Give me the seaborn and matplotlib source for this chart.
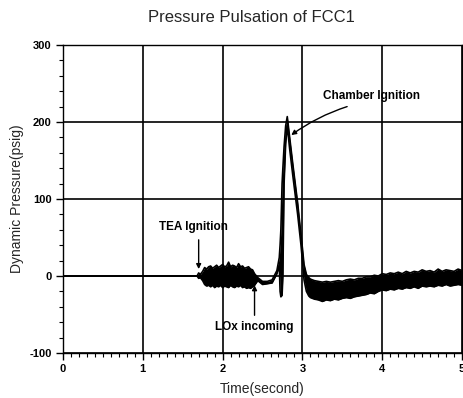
import matplotlib
matplotlib.use("Agg")
import matplotlib.pyplot as plt
import seaborn as sns
from matplotlib.ticker import MultipleLocator

# time (s) with upper / lower edge of the pressure trace (psig)
time_s = [0.00, 1.68, 1.70, 1.72,
          1.75, 1.775, 1.80, 1.825, 1.85, 1.875, 1.90, 1.925, 1.95, 1.975,
          2.00, 2.025, 2.05, 2.075, 2.10, 2.125, 2.15, 2.175, 2.20, 2.225,
          2.25, 2.275, 2.30, 2.325, 2.35, 2.375, 2.40,
          2.44, 2.50, 2.56, 2.62, 2.68, 2.71, 2.72, 2.73, 2.745, 2.755,
          2.77, 2.79, 2.81, 2.84, 2.88, 2.94, 2.98, 3.00, 3.02, 3.05, 3.08,
          3.10, 3.15, 3.20, 3.25, 3.30, 3.35, 3.40, 3.45, 3.50, 3.55, 3.60,
          3.65, 3.70, 3.75, 3.80, 3.85, 3.90, 3.95, 4.00, 4.05, 4.10, 4.15,
          4.20, 4.25, 4.30, 4.35, 4.40, 4.45, 4.50, 4.55, 4.60, 4.65, 4.70,
          4.75, 4.80, 4.85, 4.90, 4.95, 5.00]
p_upper = [0, 0, 4, 2,
           6, 11, 9, 12, 13, 10, 12, 14, 11, 13,
           15, 12, 13, 18, 12, 14, 13, 11, 16, 12,
           13, 10, 11, 12, 9, 8, 3,
           -2, -7, -7, -5, 7, 24, 40, 60, 120, 140,
           168, 195, 207, 180, 145, 95, 55, 36, 15, 2, -2,
           -4, -6, -7, -8, -7, -8, -7, -6, -7, -5, -4,
           -5, -3, -3, -1, -1, 1, 0, 3, 2, 4, 3,
           5, 3, 6, 4, 6, 5, 8, 6, 7, 5, 9,
           6, 8, 7, 6, 9, 7]
p_lower = [0, 0, -3, -2,
           -6, -11, -13, -12, -14, -12, -15, -13, -14, -12,
           -15, -13, -14, -15, -12, -14, -15, -13, -14, -12,
           -15, -14, -16, -15, -16, -14, -12,
           -6, -11, -10, -9, 3, 14, -20, -27, -25, 0,
           120, 172, 195, 165, 130, 80, 42, 20, -5, -20, -26,
           -28, -30, -31, -33, -31, -32, -30, -31, -29, -28, -29,
           -27, -26, -25, -24, -22, -23, -20, -18, -19, -17, -18,
           -16, -17, -15, -16, -14, -16, -13, -14, -13, -14, -12,
           -13, -11, -13, -12, -11, -12]

notes = ["TEA Ignition", "LOx incoming", "Chamber Ignition"]
note_text_xy = [(1.63, 64), (2.40, -66), (3.86, 234)]
note_tail_xy = [(1.70, 47), (2.40, -51), (3.56, 220)]
note_tip_xy = [(1.70, 9), (2.40, -12), (2.86, 183)]
note_bend = [0.0, 0.0, 0.08]

sns.set_style("ticks")
plt.rcParams["font.family"] = ["Liberation Sans", "DejaVu Sans"]
plt.rcParams["axes.unicode_minus"] = False

fig = plt.figure(figsize=(4.63, 3.98), dpi=100)
ax = fig.add_axes([0.136, 0.113, 0.862, 0.774])

ax.fill_between(time_s, p_lower, p_upper, color="black", linewidth=0)
sns.lineplot(x=time_s, y=p_upper, color="black", linewidth=1.2, ax=ax)
sns.lineplot(x=time_s, y=p_lower, color="black", linewidth=1.2, ax=ax)

for label, txt, tail, tip, bend in zip(notes, note_text_xy, note_tail_xy, note_tip_xy, note_bend):
    ax.text(txt[0], txt[1], label, ha="center", va="center",
            fontsize=8.5, fontweight="bold", color="black")
    ax.annotate("", xy=tip, xytext=tail,
                arrowprops=dict(arrowstyle="-|>", color="black", lw=1,
                                mutation_scale=7, shrinkA=0, shrinkB=0,
                                connectionstyle="arc3,rad=%s" % bend))

ax.set_xlim(0, 5)
ax.set_ylim(-100, 300)
ax.xaxis.set_major_locator(MultipleLocator(1))
ax.xaxis.set_minor_locator(MultipleLocator(0.1))
ax.yaxis.set_major_locator(MultipleLocator(100))
ax.yaxis.set_minor_locator(MultipleLocator(20))
ax.grid(True, which="major", color="black", linewidth=1.2)
ax.tick_params(which="major", direction="out", length=5, width=1, colors="black",
               labelsize=8, pad=3)
ax.tick_params(which="minor", direction="out", length=3, width=0.8, colors="black")
for lab in ax.get_xticklabels() + ax.get_yticklabels():
    lab.set_fontweight("bold")
for sp in ax.spines.values():
    sp.set_visible(True)
    sp.set_color("black")
    sp.set_linewidth(1)

ax.set_xlabel("Time(second)", fontsize=10, labelpad=6)
ax.set_ylabel("Dynamic Pressure(psig)", fontsize=10, labelpad=4)
fig.text(0.542, 0.957, "Pressure Pulsation of FCC1", ha="center", va="center",
         fontsize=12)

fig.savefig("out.png", dpi=100)
